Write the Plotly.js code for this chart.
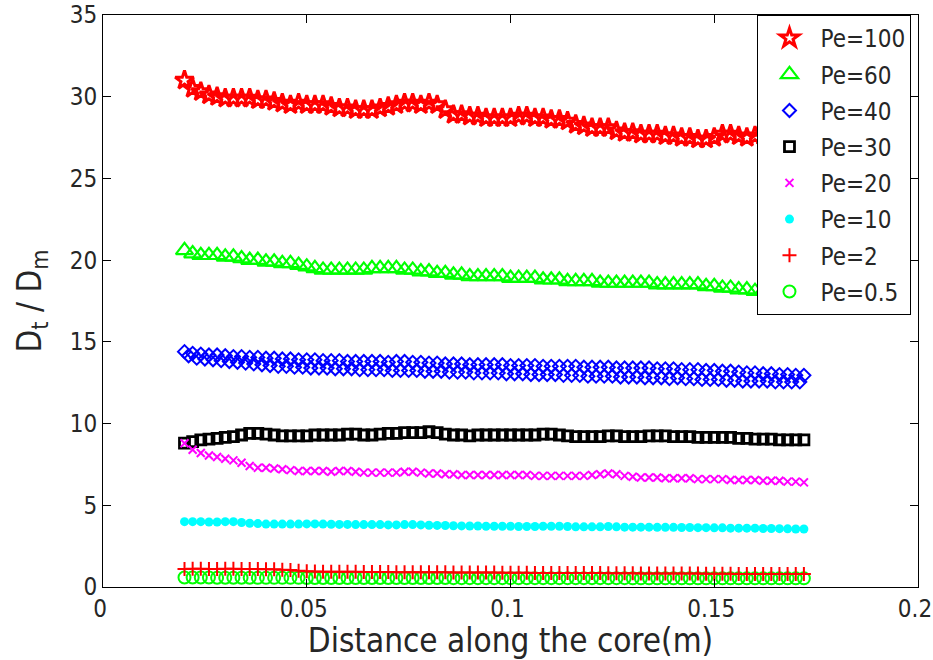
<!DOCTYPE html>
<html>
<head>
<meta charset="utf-8">
<script src="https://cdn.plot.ly/plotly-3.0.1.min.js"></script>
<style>html,body{margin:0;padding:0;background:#fff;}#chart{width:933px;height:660px;}</style>
</head>
<body>
<div id="chart"></div>
<script>
// Distance along the core (m)
const xs = [
  0.020,0.022,0.024,0.026,0.028,0.030,0.032,0.034,0.036,0.038,
  0.040,0.042,0.044,0.046,0.048,0.050,0.052,0.054,0.056,0.058,
  0.060,0.062,0.064,0.066,0.068,0.070,0.072,0.074,0.076,0.078,
  0.080,0.082,0.084,0.086,0.088,0.090,0.092,0.094,0.096,0.098,
  0.100,0.102,0.104,0.106,0.108,0.110,0.112,0.114,0.116,0.118,
  0.120,0.122,0.124,0.126,0.128,0.130,0.132,0.134,0.136,0.138,
  0.140,0.142,0.144,0.146,0.148,0.150,0.152,0.154,0.156,0.158,
  0.160,0.162,0.164,0.166,0.168,0.170,0.172
];
// offset positions of the second row of Pe=40 diamonds
const xsOffset = [
  0.021,0.023,0.025,0.027,0.029,0.031,0.033,0.035,0.037,0.039,
  0.041,0.043,0.045,0.047,0.049,0.051,0.053,0.055,0.057,0.059,
  0.061,0.063,0.065,0.067,0.069,0.071,0.073,0.075,0.077,0.079,
  0.081,0.083,0.085,0.087,0.089,0.091,0.093,0.095,0.097,0.099,
  0.101,0.103,0.105,0.107,0.109,0.111,0.113,0.115,0.117,0.119,
  0.121,0.123,0.125,0.127,0.129,0.131,0.133,0.135,0.137,0.139,
  0.141,0.143,0.145,0.147,0.149,0.151,0.153,0.155,0.157,0.159,
  0.161,0.163,0.165,0.167,0.169,0.171
];

const pe100 = [
  31.0,30.5,30.3,30.1,30.0,29.9,29.9,29.9,29.9,29.8,
  29.8,29.7,29.6,29.5,29.6,29.5,29.5,29.5,29.4,29.3,
  29.3,29.2,29.2,29.2,29.3,29.4,29.5,29.6,29.6,29.5,
  29.6,29.5,29.2,28.9,28.9,28.8,28.8,28.7,28.7,28.7,
  28.7,28.8,28.8,28.7,28.7,28.6,28.6,28.5,28.3,28.2,
  28.1,28.1,28.1,27.9,27.8,27.8,27.7,27.7,27.7,27.6,
  27.6,27.5,27.5,27.4,27.4,27.5,27.7,27.7,27.6,27.5,
  27.6,27.6,27.5,27.5,27.5,27.4,27.4
];
const pe60 = [
  20.6,20.4,20.3,20.3,20.3,20.2,20.2,20.1,20.0,20.0,
  19.9,19.9,19.8,19.8,19.7,19.6,19.5,19.4,19.4,19.4,
  19.4,19.4,19.4,19.5,19.5,19.5,19.5,19.4,19.4,19.3,
  19.3,19.2,19.2,19.1,19.1,19.0,19.0,19.0,19.0,19.0,
  18.9,18.9,18.9,18.9,18.8,18.8,18.8,18.7,18.7,18.7,
  18.7,18.6,18.6,18.6,18.6,18.6,18.6,18.6,18.5,18.5,
  18.5,18.5,18.5,18.5,18.4,18.4,18.3,18.3,18.2,18.2,
  18.1,18.1,18.0,18.0,18.0,17.9,17.9
];
const pe40 = [
  14.4,14.3,14.25,14.2,14.2,14.15,14.1,14.1,14.05,14.05,
  14.0,14.0,13.95,13.95,13.9,13.9,13.9,13.85,13.85,13.85,
  13.8,13.8,13.8,13.8,13.8,13.75,13.8,13.8,13.75,13.75,
  13.7,13.7,13.65,13.65,13.65,13.6,13.6,13.6,13.6,13.6,
  13.55,13.55,13.55,13.55,13.5,13.5,13.5,13.5,13.5,13.45,
  13.45,13.45,13.45,13.4,13.4,13.4,13.4,13.4,13.35,13.35,
  13.35,13.3,13.3,13.3,13.25,13.25,13.2,13.2,13.15,13.1,
  13.1,13.05,13.05,13.0,13.0,12.95,12.95
];
const pe40Offset = [
  14.15,14.0,13.95,13.9,13.85,13.8,13.75,13.7,13.65,13.6,
  13.55,13.5,13.5,13.45,13.45,13.4,13.4,13.4,13.35,13.35,
  13.35,13.3,13.3,13.3,13.3,13.25,13.25,13.25,13.25,13.2,
  13.2,13.2,13.15,13.15,13.15,13.1,13.1,13.1,13.1,13.05,
  13.05,13.05,13.0,13.0,13.0,13.0,12.95,12.95,12.95,12.9,
  12.9,12.9,12.9,12.85,12.85,12.85,12.8,12.8,12.8,12.75,
  12.8,12.75,12.75,12.7,12.7,12.7,12.65,12.65,12.6,12.6,
  12.6,12.6,12.55,12.55,12.55,12.55
];
const pe30 = [
  8.8,8.9,9.0,9.05,9.1,9.15,9.2,9.3,9.4,9.4,
  9.35,9.3,9.25,9.25,9.25,9.25,9.3,9.3,9.3,9.3,
  9.35,9.35,9.3,9.3,9.35,9.4,9.4,9.45,9.45,9.45,
  9.5,9.45,9.35,9.3,9.3,9.25,9.3,9.3,9.3,9.3,
  9.3,9.3,9.3,9.3,9.35,9.35,9.3,9.25,9.2,9.2,
  9.2,9.2,9.25,9.25,9.2,9.2,9.2,9.25,9.25,9.25,
  9.2,9.2,9.2,9.15,9.15,9.15,9.15,9.15,9.1,9.1,
  9.05,9.05,9.05,9.0,9.0,9.0,9.0
];
const pe20 = [
  8.8,8.4,8.2,8.05,7.95,7.85,7.75,7.6,7.4,7.3,
  7.3,7.25,7.2,7.15,7.1,7.1,7.1,7.1,7.05,7.1,
  7.1,7.05,7.0,7.0,7.0,7.0,7.0,7.05,7.05,7.0,
  6.95,6.95,6.9,6.9,6.85,6.85,6.85,6.85,6.85,6.85,
  6.85,6.85,6.85,6.8,6.8,6.8,6.8,6.8,6.8,6.8,
  6.85,6.9,6.95,6.9,6.8,6.75,6.7,6.7,6.7,6.65,
  6.65,6.65,6.65,6.6,6.6,6.6,6.6,6.55,6.55,6.55,
  6.55,6.5,6.5,6.5,6.45,6.45,6.4
];
const pe10 = [
  4.0,4.0,4.0,3.98,3.98,4.0,4.0,3.95,3.9,3.88,
  3.85,3.85,3.85,3.85,3.85,3.86,3.86,3.85,3.84,3.83,
  3.83,3.82,3.82,3.82,3.82,3.8,3.8,3.82,3.82,3.8,
  3.78,3.77,3.76,3.75,3.74,3.73,3.73,3.72,3.72,3.72,
  3.72,3.7,3.7,3.7,3.72,3.72,3.72,3.7,3.68,3.68,
  3.68,3.68,3.7,3.68,3.66,3.66,3.66,3.66,3.65,3.65,
  3.65,3.64,3.64,3.63,3.63,3.62,3.62,3.6,3.6,3.6,
  3.6,3.58,3.58,3.57,3.56,3.55,3.55
];
const pe2 = [
  1.1,1.12,1.12,1.1,1.1,1.12,1.12,1.1,1.1,1.1,
  1.08,1.08,1.06,1.04,1.0,0.96,0.95,0.94,0.94,0.93,
  0.93,0.93,0.92,0.92,0.92,0.92,0.91,0.91,0.91,0.9,
  0.9,0.9,0.9,0.89,0.89,0.88,0.88,0.88,0.88,0.87,
  0.87,0.87,0.87,0.86,0.86,0.86,0.86,0.85,0.85,0.85,
  0.85,0.85,0.84,0.84,0.84,0.84,0.83,0.83,0.83,0.83,
  0.82,0.82,0.82,0.82,0.81,0.81,0.81,0.81,0.8,0.8,
  0.8,0.8,0.8,0.79,0.79,0.79,0.79
];
const pe05 = [
  0.58,0.58,0.58,0.58,0.57,0.57,0.57,0.57,0.57,0.56,
  0.56,0.56,0.56,0.56,0.56,0.55,0.55,0.55,0.55,0.55,
  0.55,0.55,0.55,0.55,0.55,0.55,0.55,0.55,0.55,0.55,
  0.55,0.55,0.55,0.54,0.54,0.54,0.54,0.54,0.54,0.54,
  0.54,0.54,0.54,0.54,0.54,0.54,0.54,0.54,0.54,0.54,
  0.54,0.54,0.54,0.54,0.54,0.53,0.53,0.53,0.53,0.53,
  0.53,0.53,0.53,0.53,0.53,0.53,0.53,0.53,0.53,0.53,
  0.53,0.53,0.53,0.53,0.53,0.53,0.53
];

const names = ['Pe=100','Pe=60','Pe=40','Pe=30','Pe=20','Pe=10','Pe=2','Pe=0.5'];
const xTicks = [0, 0.05, 0.1, 0.15, 0.2];
const xTickText = ['0', '0.05', '0.1', '0.15', '0.2'];
const yTicks = [0, 5, 10, 15, 20, 25, 30, 35];
const FONT = '"DejaVu Sans Condensed", "Liberation Sans Narrow", "Open Sans", sans-serif';

function tr(name, x, y, symbol, color, size, lw, rank, show) {
  return {
    type: 'scatter', mode: 'markers', name: name, x: x, y: y,
    legendgroup: name, legendrank: rank, showlegend: show !== false,
    marker: { symbol: symbol, color: color, size: size,
              line: { color: color, width: lw } },
    hoverinfo: 'x+y'
  };
}

const data = [
  tr(names[0], xs, pe100, 'star-open', '#ff0000', 14, 3, 1),
  tr(names[1], xs, pe60, 'triangle-up-open', '#00ff00', 15, 2.2, 2),
  tr(names[2], xs, pe40, 'diamond-open', '#0000ff', 10, 2, 3),
  tr(names[2], xsOffset, pe40Offset, 'diamond-open', '#0000ff', 10, 2, 3, false),
  tr(names[3], xs, pe30, 'square-open', '#000000', 10, 2.8, 4),
  tr(names[4], xs, pe20, 'x-thin', '#ff00ff', 8, 2, 5),
  tr(names[5], xs, pe10, 'circle', '#00ffff', 9, 0, 6),
  tr(names[7], xs, pe05, 'circle-open', '#00ff00', 12, 2, 8),
  tr(names[6], xs, pe2, 'cross-thin', '#ff0000', 10, 2, 7)
];

const fnt = (s) => ({ family: FONT, size: s, color: '#262626', stretch: 'condensed' });

const layout = {
  width: 933, height: 660,
  margin: { l: 103, r: 15, t: 15, b: 73 },
  paper_bgcolor: '#fff', plot_bgcolor: '#fff',
  font: fnt(24),
  showlegend: true,
  legend: {
    x: 0.992, xanchor: 'right', y: 1, yanchor: 'top',
    bgcolor: '#fff', bordercolor: '#000', borderwidth: 1,
    font: fnt(24),
    traceorder: 'grouped', tracegroupgap: 2, itemwidth: 52
  },
  xaxis: {
    range: [0, 0.2], tickvals: xTicks, ticktext: xTickText,
    showgrid: false, zeroline: false, ticklabeloverflow: 'allow',
    showline: true, linecolor: '#000', linewidth: 1, mirror: 'ticks',
    ticks: 'inside', ticklen: 8, tickcolor: '#000', tickwidth: 1,
    tickfont: fnt(24), ticklabelshift: -3,
    title: { text: 'Distance along the core(m)', font: fnt(33), standoff: 5 }
  },
  yaxis: {
    range: [0, 35], tickvals: yTicks,
    showgrid: false, zeroline: false, ticklabeloverflow: 'allow',
    showline: true, linecolor: '#000', linewidth: 1, mirror: 'ticks',
    ticks: 'inside', ticklen: 8, tickcolor: '#000', tickwidth: 1,
    tickfont: fnt(24),
    title: { text: 'D<sub>t</sub> / D<sub>m</sub>', font: fnt(33), standoff: 18 }
  }
};

Plotly.newPlot('chart', data, layout, { displayModeBar: false, staticPlot: true });
</script>
</body>
</html>
